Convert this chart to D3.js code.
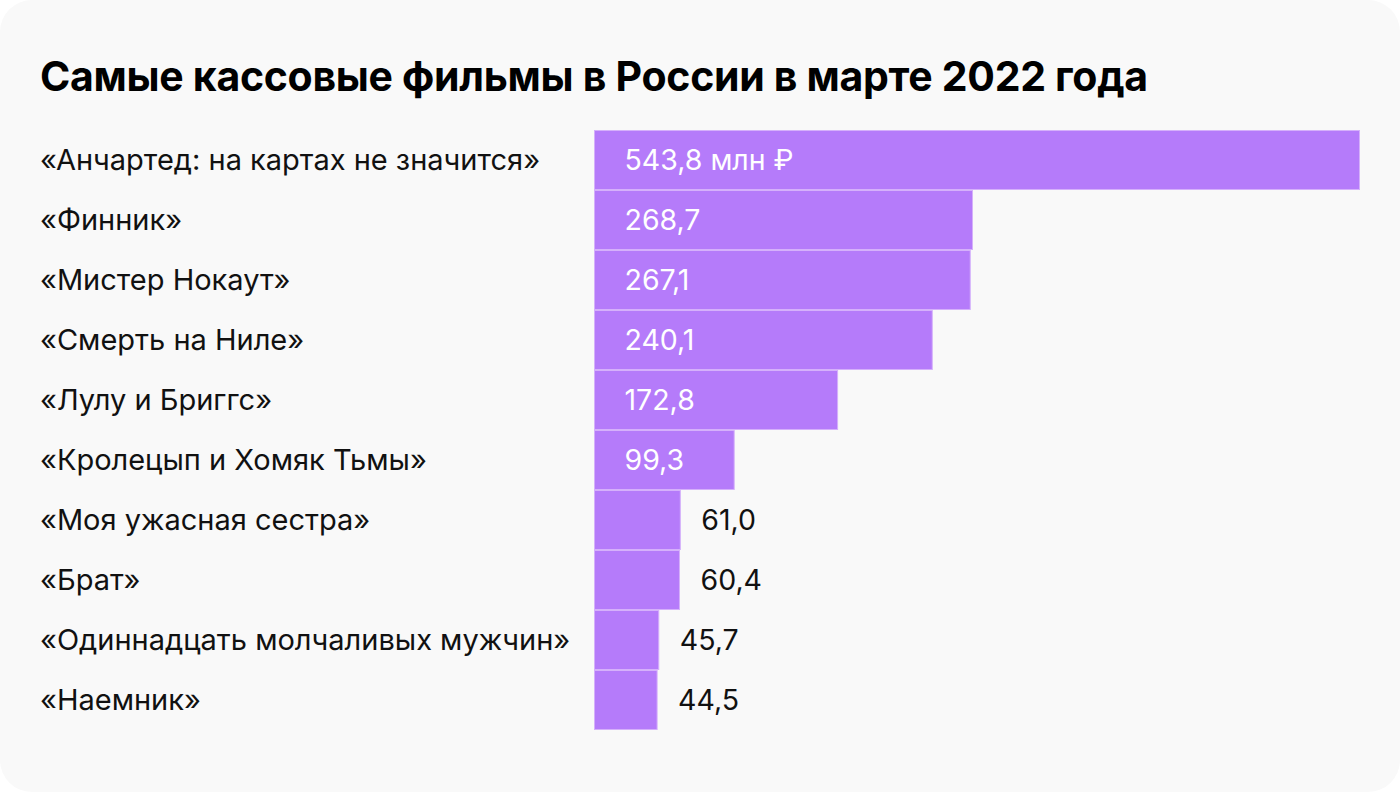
<!DOCTYPE html>
<html><head><meta charset="utf-8">
<script src="https://cdn.jsdelivr.net/npm/d3@7"></script>
<style>body{margin:0;background:#fff;}svg{display:block;}</style>
</head><body>
<script>
const title = "Самые кассовые фильмы в России в марте 2022 года";
const films = ["«Анчартед: на картах не значится»","«Финник»","«Мистер Нокаут»","«Смерть на Ниле»","«Лулу и Бриггс»","«Кролецып и Хомяк Тьмы»","«Моя ужасная сестра»","«Брат»","«Одиннадцать молчаливых мужчин»","«Наемник»"];
const values = [543.8,268.7,267.1,240.1,172.8,99.3,61.0,60.4,45.7,44.5];
const valueLabels = ["543,8 млн ₽","268,7","267,1","240,1","172,8","99,3","61,0","60,4","45,7","44,5"];

const W=1400,H=792;
const svg=d3.select("body").append("svg").attr("width",W).attr("height",H);
svg.append("rect").attr("x",0).attr("y",0).attr("width",W).attr("height",H).attr("rx",32).attr("fill","#f9f9f9");
const font="Inter, Roboto, sans-serif";
svg.append("text").attr("x",40).attr("y",91).text(title)
  .attr("font-family",font).attr("font-weight",700).attr("font-size",41).attr("fill","#000").attr("letter-spacing",-0.3);

const x=d3.scaleLinear().domain([0,543.8]).range([594.5,1359.5]);
const y=d3.scaleBand().domain(films).range([130,730]).padding(0);

const g=svg.append("g");
g.selectAll("rect.bar").data(films).join("rect").attr("class","bar")
  .attr("x",x(0)).attr("y",d=>y(d)+0.5)
  .attr("width",(d,i)=>x(values[i])-x(0)).attr("height",y.bandwidth()-1)
  .attr("fill","#b57bfa").attr("stroke","#d5b0fb").attr("stroke-width",1);

g.selectAll("text.lab").data(films).join("text").attr("class","lab")
  .attr("x",40).attr("y",d=>y(d)+y.bandwidth()/2).attr("dy","0.36em")
  .attr("font-family",font).attr("font-size",29).attr("fill","#111").text(d=>d);

g.selectAll("text.val").data(films).join("text").attr("class","val")
  .attr("x",(d,i)=>values[i]>=90 ? x(0)+30 : x(values[i])+21)
  .attr("y",d=>y(d)+y.bandwidth()/2).attr("dy","0.36em")
  .attr("font-family",font).attr("font-size",28.5)
  .attr("fill",(d,i)=>values[i]>=90?"#fff":"#111").text((d,i)=>valueLabels[i]);
</script>
</body></html>
